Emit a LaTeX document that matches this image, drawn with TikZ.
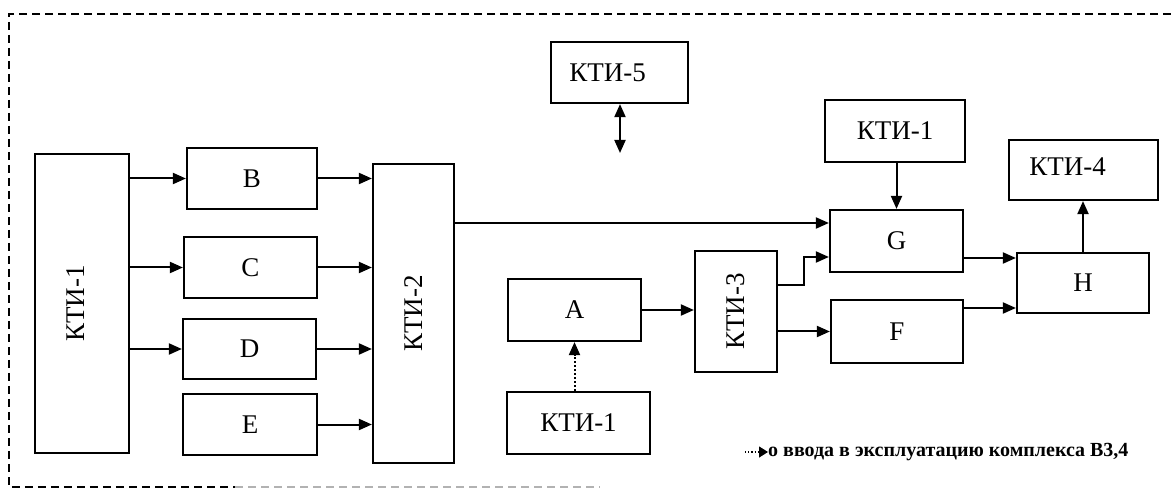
\documentclass[tikz,border=0pt]{standalone}
\usepackage{fontspec}
\setmainfont{Liberation Serif}
\usetikzlibrary{arrows.meta}
\begin{document}
\begin{tikzpicture}[x=1pt,y=-1pt,
  boxfont/.style={font=\fontsize{27}{31}\selectfont},
  box/.style={draw, line width=2.2pt, rectangle, inner sep=0pt, boxfont},
  arr/.style={line width=2pt, -{Triangle[length=13pt,width=11pt]}},
  dotarr/.style={line width=2pt, dotted, -{Triangle[length=13pt,width=11pt]}},
  dblarr/.style={line width=2pt, {Triangle[length=13pt,width=11pt]}-{Triangle[length=13pt,width=11pt]}},
  border/.style={line width=1.8pt, dash pattern=on 8pt off 5pt},
  legend/.style={inner sep=0pt, anchor=west, font=\bfseries\fontsize{20}{23}\selectfont}
]
\useasboundingbox (0,0) rectangle (1171,489);
% border
\draw[border] (1171,14) -- (9,14) -- (9,487) -- (235,487);
\draw[border, gray!60] (235,487) -- (600,487);
% boxes
\node[box, minimum width=94pt, minimum height=299pt, label={[xshift=-6pt,boxfont]center:\rotatebox{90}{КТИ-1}}] (K1) at (82,303.5) {};
\node[box, minimum width=130pt, minimum height=61pt] (B) at (252,178.5) {B};
\node[box, minimum width=133pt, minimum height=61pt] (C) at (250.5,267.5) {C};
\node[box, minimum width=133pt, minimum height=60pt] (D) at (249.5,349) {D};
\node[box, minimum width=134pt, minimum height=61pt] (E) at (250,424.5) {E};
\node[box, minimum width=81pt, minimum height=299pt] (K2) at (413.5,313.5) {\rotatebox{90}{КТИ-2}};
\node[box, minimum width=137pt, minimum height=61pt, label={[xshift=-12pt,boxfont]center:КТИ-5}] (K5) at (619.5,72.5) {};
\node[box, minimum width=133pt, minimum height=62pt] (A) at (574.5,310) {A};
\node[box, minimum width=143pt, minimum height=62pt] (K1b) at (578.5,423) {КТИ-1};
\node[box, minimum width=82pt, minimum height=121pt] (K3) at (736,311.5) {\rotatebox{90}{КТИ-3}};
\node[box, minimum width=140pt, minimum height=62pt] (K1t) at (895,131) {КТИ-1};
\node[box, minimum width=133pt, minimum height=62pt] (G) at (896.5,241) {G};
\node[box, minimum width=132pt, minimum height=63pt] (F) at (897,331.5) {F};
\node[box, minimum width=149pt, minimum height=60pt, label={[xshift=-16pt,yshift=3pt,boxfont]center:КТИ-4}] (K4) at (1083.5,170) {};
\node[box, minimum width=132pt, minimum height=60pt] (H) at (1083,283) {H};
% level coordinates
\coordinate (y223) at (0,223);
\coordinate (y257) at (0,257);
\coordinate (y285) at (0,285);
\coordinate (y258) at (0,258);
\coordinate (y308) at (0,308);
\coordinate (k5end) at (620,153);
% connectors
\draw[arr] (K1.east |- B.west) -- (B.west);
\draw[arr] (K1.east |- C.west) -- (C.west);
\draw[arr] (K1.east |- D.west) -- (D.west);
\draw[arr] (B.east) -- (B.east -| K2.west);
\draw[arr] (C.east) -- (C.east -| K2.west);
\draw[arr] (D.east) -- (D.east -| K2.west);
\draw[arr] (E.east) -- (E.east -| K2.west);
\draw[arr] (K2.east |- y223) -- (G.west |- y223);
\draw[dblarr] (K5.south -| k5end) -- (k5end);
\draw[arr] (A.east) -- (A.east -| K3.west);
\draw[dotarr] (K1b.north -| A.south) -- (A.south);
\draw[arr] (K3.east |- y285) -- ++(26,0) |- (G.west |- y257);
\draw[arr] (K3.east |- F.west) -- (F.west);
\draw[arr] (K1t.south -| G.north) -- (G.north);
\draw[arr] (G.east |- y258) -- (H.west |- y258);
\draw[arr] (F.east |- y308) -- (H.west |- y308);
\draw[arr] (H.north) -- (K4.south -| H.north);
% legend
\coordinate (lg) at (745,452);
\node[legend] (legtxt) at (768,452) {о ввода в эксплуатацию комплекса В3,4};
\draw[line width=1.2pt, dotted, -{Triangle[length=9pt,width=11pt]}] (lg) -- (legtxt.west);
\end{tikzpicture}
\end{document}
